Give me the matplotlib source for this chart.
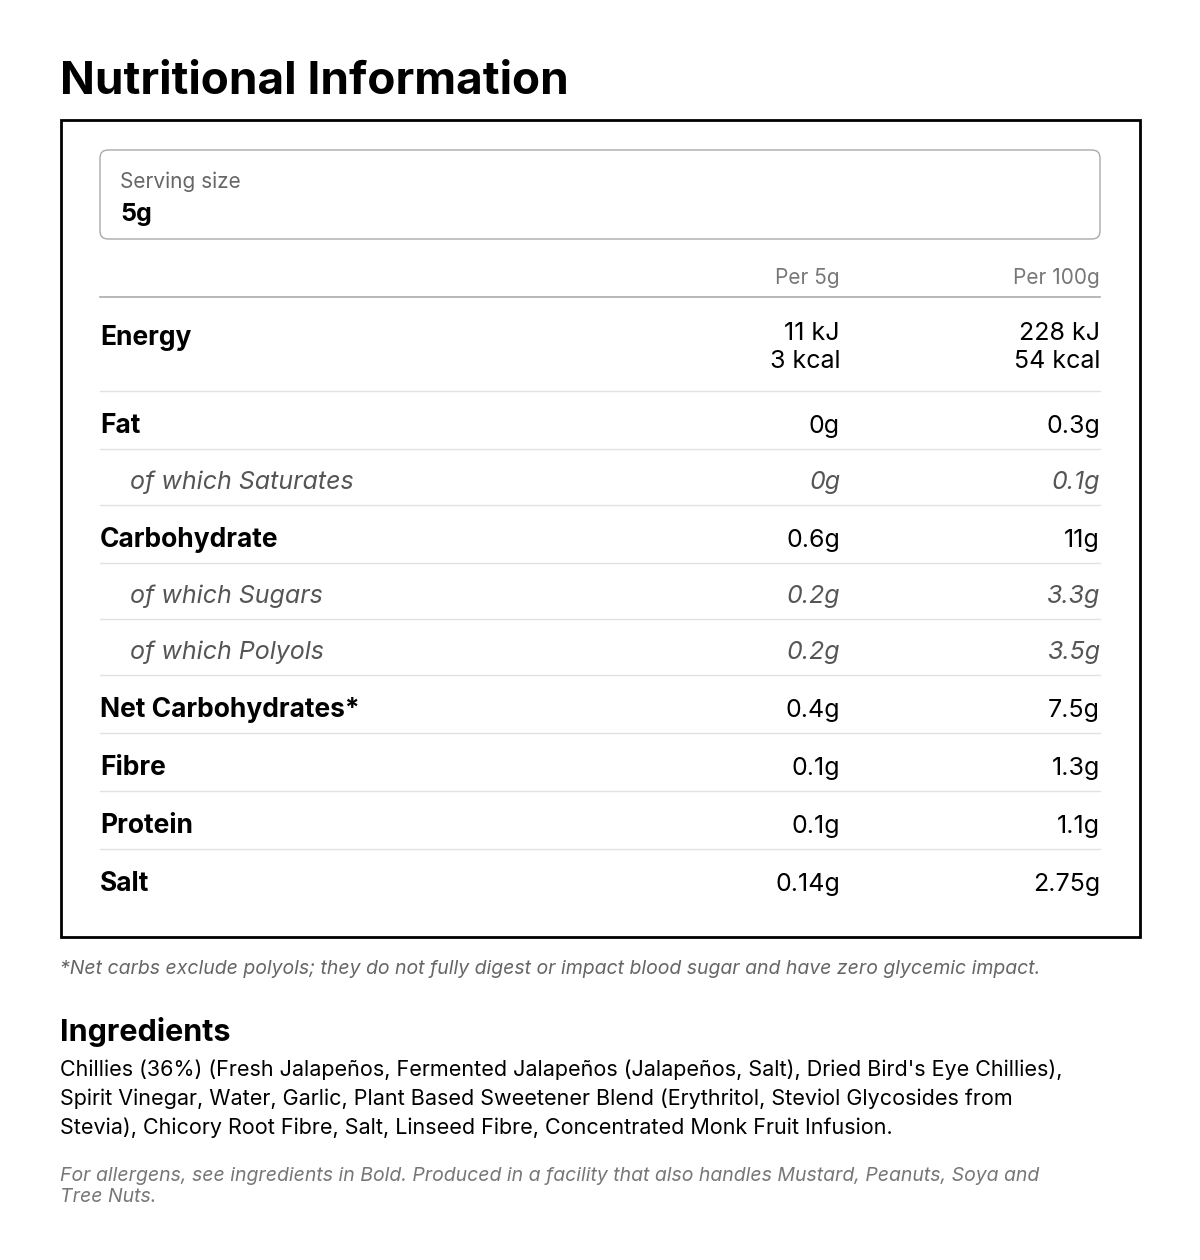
import matplotlib
matplotlib.use("Agg")
import matplotlib.pyplot as plt
from matplotlib.patches import Rectangle, FancyBboxPatch

plt.rcParams["font.family"] = ["Inter", "DejaVu Sans"]

W, H = 1200, 1260

# -------------------------------
# Data
# -------------------------------
row_labels = ["Energy", "Fat", "of which Saturates", "Carbohydrate", "of which Sugars",
              "of which Polyols", "Net Carbohydrates*", "Fibre", "Protein", "Salt"]
per_5g = ["11 kJ\n3 kcal", "0g", "0g", "0.6g", "0.2g", "0.2g", "0.4g", "0.1g", "0.1g", "0.14g"]
per_100g = ["228 kJ\n54 kcal", "0.3g", "0.1g", "11g", "3.3g", "3.5g", "7.5g", "1.3g", "1.1g", "2.75g"]
is_sub = [False, False, True, False, True, True, False, False, False, False]
row_y = [338, 426, 482, 540, 596, 652, 710, 768, 826, 884]
sep_y = [391, 449, 505, 563, 619, 675, 733, 791, 849]

footnote = "*Net carbs exclude polyols; they do not fully digest or impact blood sugar and have zero glycemic impact."
ingredients = ("Chillies (36%) (Fresh Jalapeños, Fermented Jalapeños (Jalapeños, Salt), Dried Bird's Eye Chillies),\n"
               "Spirit Vinegar, Water, Garlic, Plant Based Sweetener Blend (Erythritol, Steviol Glycosides from\n"
               "Stevia), Chicory Root Fibre, Salt, Linseed Fibre, Concentrated Monk Fruit Infusion.")
allergens = ("For allergens, see ingredients in Bold. Produced in a facility that also handles Mustard, Peanuts, Soya and\n"
             "Tree Nuts.")

fig = plt.figure(figsize=(W / 100, H / 100), dpi=100)
ax = fig.add_axes([0, 0, 1, 1])
ax.set_xlim(0, W)
ax.set_ylim(H, 0)
ax.axis("off")

ax.text(60, 82, "Nutritional Information", fontsize=33, fontweight="bold", va="center")

ax.add_patch(Rectangle((61, 120), 1079, 817, fill=False, lw=2, ec="black"))
ax.add_patch(FancyBboxPatch((100, 150), 1000, 89, boxstyle="round,pad=0,rounding_size=8",
                            fill=False, lw=1, ec="#aaaaaa"))
ax.text(120, 182, "Serving size", fontsize=15, color="#666666", va="center")
ax.text(120, 215, "5g", fontsize=18, fontweight="bold", va="center")

ax.text(840, 278, "Per 5g", fontsize=15, color="#777777", ha="right", va="center")
ax.text(1100, 278, "Per 100g", fontsize=15, color="#777777", ha="right", va="center")
ax.plot([100, 1100], [297, 297], color="#aaaaaa", lw=1.2)

for lab, a, b, sub, y in zip(row_labels, per_5g, per_100g, is_sub, row_y):
    if sub:
        kw = dict(fontsize=18, style="italic", color="#555555")
        ax.text(130, y, lab, va="center", **kw)
    else:
        kw = dict(fontsize=18, color="black")
        ax.text(100, y, lab, va="center", fontweight="bold", fontsize=19)
    if "\n" in a:
        ax.text(840, y - 2, a, ha="right", va="top", linespacing=1.3, **kw)
        ax.text(1100, y - 2, b, ha="right", va="top", linespacing=1.3, **kw)
        ax.texts[-1].set_y(y - 16); ax.texts[-2].set_y(y - 16)
    else:
        ax.text(840, y, a, ha="right", va="center", **kw)
        ax.text(1100, y, b, ha="right", va="center", **kw)

for y in sep_y:
    ax.plot([100, 1100], [y, y], color="#e2e2e2", lw=1)

ax.text(60, 969, footnote, fontsize=14, style="italic", color="#666666", va="center")
ax.text(60, 1032, "Ingredients", fontsize=22, fontweight="bold", va="center")
ax.text(60, 1060, ingredients, fontsize=15.5, va="top", linespacing=1.5)
ax.text(60, 1167, allergens, fontsize=14, style="italic", color="#777777", va="top", linespacing=1.2)

fig.savefig("out.png", dpi=100, facecolor="white")
